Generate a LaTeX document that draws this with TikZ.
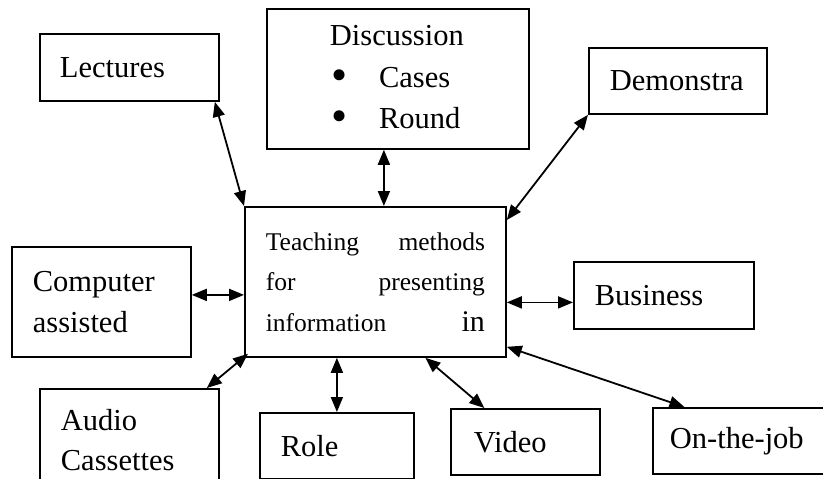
\documentclass[tikz,border=0pt]{standalone}
\usepackage{fontspec}
\setmainfont{Liberation Serif}
\usepackage{tikz}
\usetikzlibrary{arrows.meta, positioning}

\newcommand{\bigbullet}{\raisebox{-3pt}{\fontsize{46}{46}\selectfont\textbullet}}

\begin{document}
\begin{tikzpicture}[
    x=1pt, y=-1pt,
    every node/.style={font=\fontsize{30.5}{40.5}\selectfont},
    box/.style={draw, line width=1.8pt, anchor=north west, inner sep=0pt, align=left},
    arr/.style={{Triangle[length=15pt,width=12pt]}-{Triangle[length=15pt,width=12pt]}, line width=1.8pt},
]
\useasboundingbox (0,0) rectangle (823,479);
\clip (0,0) rectangle (823,479);

% centre box
\node[box, minimum width=261pt, minimum height=150pt, text width=219pt,
      font=\fontsize{25.5}{40.5}\selectfont] (teach) at (244,206)
     {Teaching\hfill methods\\for\hfill presenting\\information\hfill{\fontsize{30}{40.5}\selectfont in}};

% surrounding boxes
\node[box, minimum width=179pt, minimum height=67pt,  text width=139pt] (lect)  at (39,33)   {Lectures};
\node[box, minimum width=262pt, minimum height=140pt, text width=136pt,
      font=\fontsize{30.5}{41.5}\selectfont] (disc)  at (266,8)
     {Discussion\\\hspace*{2pt}\bigbullet\hspace*{31pt}Cases\\\hspace*{2pt}\bigbullet\hspace*{31pt}Round};
\node[box, minimum width=178pt, minimum height=66pt,  text width=136pt] (demo)  at (588,47)  {Demonstra};
\node[box, minimum width=180pt, minimum height=67pt,  text width=138pt] (busi)  at (573,261) {Business};
\node[box, minimum width=179pt, minimum height=110pt, text width=137pt] (comp)  at (11,246)  {Computer\\assisted};
\node[box, minimum width=179pt, minimum height=102pt, text width=137pt] (audio) at (39,388)  {Audio\\Cassettes};
\node[box, minimum width=154pt, minimum height=66pt,  text width=112pt] (role)  at (259,412) {Role};
\node[box, minimum width=149pt, minimum height=66pt,  text width=103pt] (video) at (450,408) {Video};
\node[box, minimum width=171pt, minimum height=66pt,  text width=137pt] (job)   at (652,407) {On-the-job};

% connectors
\draw[arr] ([xshift=-5pt]lect.south east) -- (teach.north west);
\draw[arr] ([xshift=-14pt]disc.south) -- ([xshift=-14pt]disc.south |- teach.north);
\draw[arr] (demo.south west) -- ([yshift=-14pt]teach.north east);
\draw[arr] ([yshift=-7pt]busi.west -| teach.east) -- ([yshift=-7pt]busi.west);
\draw[arr] ([yshift=7pt]comp.east) -- ([yshift=7pt]comp.east -| teach.west);
\draw[arr] ([xshift=4pt,yshift=4pt]teach.south west) -- ([xshift=-13pt]audio.north east);
\draw[arr] (role.north |- teach.south) -- (role.north);
\draw[arr] ([xshift=50pt]teach.south) -- ([xshift=-41pt]video.north);
\draw[arr] ([yshift=11pt]teach.south east) -- ([xshift=-54pt]job.north);
\end{tikzpicture}
\end{document}
